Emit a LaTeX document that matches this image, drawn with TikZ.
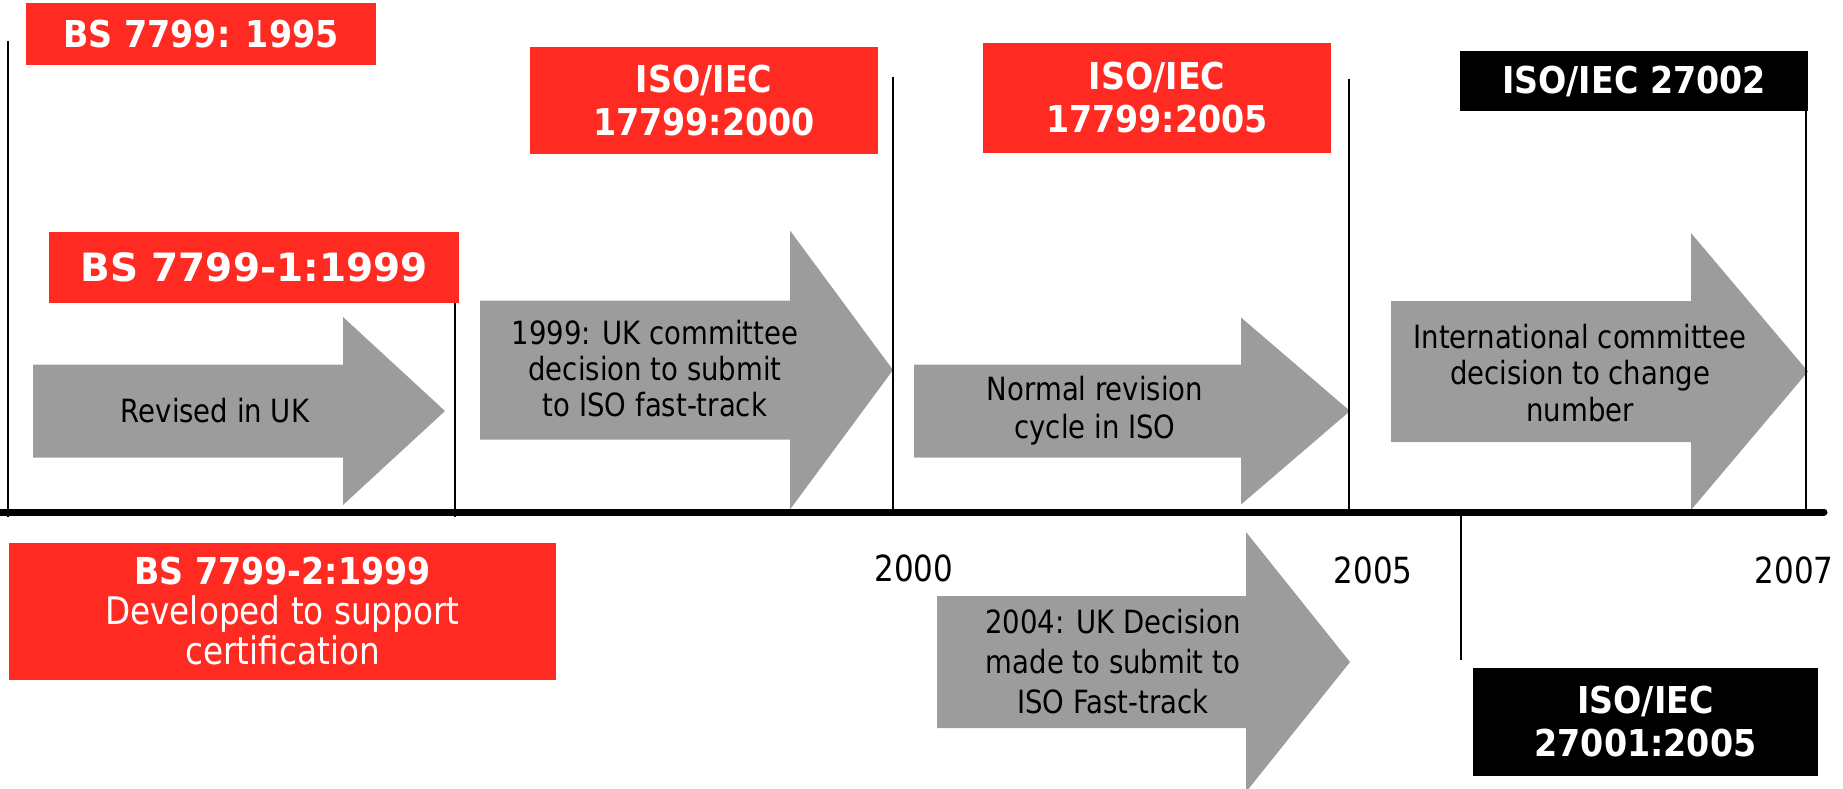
\documentclass[tikz,border=0pt]{standalone}
\usepackage{fontspec}
\newfontfamily\labelfont{DejaVu Sans}[FakeStretch=0.86]
\newfontfamily\titlefont{DejaVu Sans}[FakeStretch=0.9]
\newfontfamily\widetitlefont{DejaVu Sans}
\definecolor{stdred}{HTML}{FF2B22}
\definecolor{stepgray}{HTML}{9C9C9C}

% block arrow: x start, x head, x tip, y centre, half body height, half head height
\newcommand\timearrow[6]{%
  \fill[stepgray] (#1,{#4-#5}) -- (#2,{#4-#5}) -- (#2,{#4-#6}) -- (#3,#4)
    -- (#2,{#4+#6}) -- (#2,{#4+#5}) -- (#1,{#4+#5}) -- cycle;}

\begin{document}
\begin{tikzpicture}[x=1pt,y=-1pt,
  stdbox/.style={inner sep=0pt,align=center,text=white,
    font=\titlefont\bfseries\fontsize{37}{43}\selectfont},
  redbox/.style={stdbox,fill=stdred},
  blackbox/.style={stdbox,fill=black},
  steptext/.style={text=black,align=center,inner sep=0pt,
    font=\labelfont\fontsize{32}{37}\selectfont},
  yearlabel/.style={text=black,inner sep=0pt,
    font=\labelfont\fontsize{36}{40}\selectfont},
  tick/.style={line width=2.5pt,black},
  axis/.style={line width=7pt,black,line cap=round}]

\useasboundingbox (0,0) rectangle (1843,789);
\clip (0,0) rectangle (1843,789);

% process arrows
\timearrow{33}{343}{445}{411}{46.5}{94}
\timearrow{480}{790}{893}{370}{69.5}{139.5}
\timearrow{914}{1241}{1350}{411}{46.5}{93.5}
\timearrow{1391}{1691}{1808}{371.5}{70.5}{138.5}
\timearrow{937}{1246}{1350}{662}{66}{130}

% time axis and its marks
\coordinate (axL) at (-5,512);
\coordinate (axR) at (1824,512);
\coordinate (m95) at (8,41);    \coordinate (b95) at (8,517);
\coordinate (m99) at (455,303); \coordinate (b99) at (455,517);
\coordinate (m00) at (893,77);  \coordinate (b00) at (893,512);
\coordinate (m05) at (1349,79); \coordinate (b05) at (1349,512);
\coordinate (m07) at (1806,85); \coordinate (b07) at (1806,512);
\coordinate (m27a) at (1461,512); \coordinate (m27b) at (1461,660);

\draw[tick] (m95) -- (b95);
\draw[tick] (m99) -- (b99);
\draw[tick] (m00) -- (b00);
\draw[tick] (m05) -- (b05);
\draw[tick] (m07) -- (b07);
\draw[tick] (m27a) -- (m27b);
\draw[axis] (axL) -- (axR);

% standards
\node[redbox,minimum width=350pt,minimum height=62pt] (bs95) at (201,34) {BS 7799: 1995};
\node[redbox,minimum width=410pt,minimum height=71pt,
  font=\widetitlefont\bfseries\fontsize{39}{43}\selectfont] (bs99a) at (254,267.5) {BS 7799-1:1999};
\node[redbox,minimum width=348pt,minimum height=107pt] (iso00) at (704,100.5) {ISO/IEC\\17799:2000};
\node[redbox,minimum width=348pt,minimum height=110pt] (iso05) at (1157,98) {ISO/IEC\\17799:2005};
\node[blackbox,minimum width=348pt,minimum height=60pt] (iso27002) at (1634,81) {ISO/IEC 27002};
\node[redbox,minimum width=547pt,minimum height=137pt,
  font=\labelfont\fontsize{38}{40}\selectfont] (bs99b) at (282.5,611.5)
  {{\titlefont\bfseries\fontsize{37}{40}\selectfont BS 7799-2:1999}\\Developed to support\\certification};
\node[blackbox,minimum width=345pt,minimum height=108pt] (iso27001) at (1645.5,722) {ISO/IEC\\27001:2005};

% arrow captions
\node[steptext] (t1) at (215,411) {Revised in UK};
\node[steptext,font=\labelfont\fontsize{32}{36}\selectfont] (t2) at (655,369)
  {1999: UK committee\\decision to submit\\to ISO fast-track};
\node[steptext,font=\labelfont\fontsize{32}{38}\selectfont] (t3) at (1095,411)
  {Normal revision\\cycle in ISO};
\node[steptext,font=\labelfont\fontsize{32}{36.5}\selectfont] (t4) at (1580,373)
  {International committee\\decision to change\\number};
\node[steptext,font=\labelfont\fontsize{32}{40}\selectfont] (t5) at (1113,662)
  {2004: UK Decision\\made to submit to\\ISO Fast-track};

% years
\node[yearlabel] (y00) at (914,568) {2000};
\node[yearlabel] (y05) at (1373,570) {2005};
\node[yearlabel] (y07) at (1794,570) {2007};
\end{tikzpicture}
\end{document}
